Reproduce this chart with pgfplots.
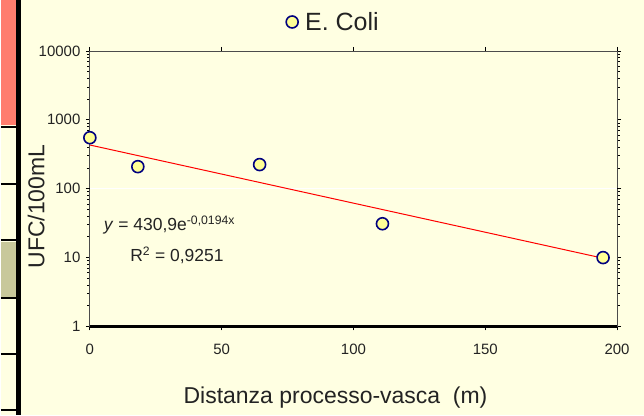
\documentclass[border=0pt]{standalone}
\usepackage{pgfplots}
\pgfplotsset{compat=1.18}
\usepackage{fontspec}
\setmainfont{Liberation Sans}

\definecolor{bgcream}{RGB}{255,255,226}
\definecolor{salmon}{RGB}{255,125,110}
\definecolor{olivecell}{RGB}{200,200,155}
\definecolor{markfill}{RGB}{255,255,150}
\definecolor{navy}{RGB}{0,0,128}
\definecolor{textgray}{RGB}{35,35,35}

\begin{document}
\begin{tikzpicture}[x=1pt,y=1pt]
  % page background and the slice of table at the left
  \fill[bgcream] (0,0) rectangle (644,416);
  \fill[salmon] (0,291) rectangle (15,416);
  \fill[olivecell] (0,118) rectangle (15,174);
  \foreach \yy in {289,232,176,118,61,5}
    \draw[black, line width=2pt] (0,\yy) -- (15,\yy);
  \fill[black] (15,0) rectangle (20,416);

  \begin{axis}[
      at={(89pt,89pt)}, anchor=south west,
      scale only axis,
      width=528pt, height=276pt,
      xmin=0, xmax=200,
      ymode=log, ymin=1, ymax=10000,
      xtick={0,50,100,150,200},
      ytick={1,10,100,1000,10000},
      yticklabels={1,10,100,1000,10000},
      minor y tick num=0,
      extra y ticks={100},
      extra y tick labels={},
      extra y tick style={grid=major, major grid style={white, line width=1.5pt}},
      tick align=outside,
      major tick length=4pt,
      tick style={black, line width=0.8pt},
      axis line style={black!70, line width=0.8pt},
      axis background/.style={fill=bgcream},
      tick label style={font=\fontsize{15}{17}\selectfont, text=textgray},
      /pgf/number format/assume math mode=true,
      xticklabel shift=10pt,
      yticklabel shift=2pt,
      xlabel={Distanza processo-vasca~~(m)},
      ylabel={UFC/100mL},
      label style={font=\fontsize{23}{26}\selectfont, text=textgray},
      xlabel style={at={(axis description cs:0.466,-0.257)}, anchor=center},
      ylabel style={at={(axis description cs:-0.102,0.435)}, anchor=center, rotate=0},
      legend style={at={(axis description cs:0.462,1.105)}, anchor=center,
                    draw=none, fill=none, font=\fontsize{25}{27}\selectfont,
                    text=textgray},
      legend cell align=left,
      clip=false,
    ]
    \addplot[only marks, mark=*, mark size=6pt,
             mark options={fill=markfill, draw=navy, line width=1.6pt}]
      coordinates {
        (0, 550)
        (18.2, 209)
        (64.4, 224)
        (111, 31)
        (194.7, 10)
      };
    \addlegendentry{\hspace{5pt}E. Coli}

    % exponential trendline (straight on the log axis)
    \addplot[red, line width=1pt, forget plot] coordinates {
        (0, 430.9)
        (194.7, 9.8)
      };

    % thick bottom axis line
    \draw[black, line width=2.5pt] (rel axis cs:0,0) -- (rel axis cs:1,0);

    \node[anchor=west, text=textgray, font=\fontsize{17.5}{20}\selectfont]
      at (axis cs:4,30) {\textit{y} = 430,9e\textsuperscript{-0,0194x}};
    \node[anchor=west, text=textgray, font=\fontsize{17.5}{20}\selectfont]
      at (axis cs:14,10.8) {R\textsuperscript{2} = 0,9251};
  \end{axis}
\end{tikzpicture}
\end{document}
